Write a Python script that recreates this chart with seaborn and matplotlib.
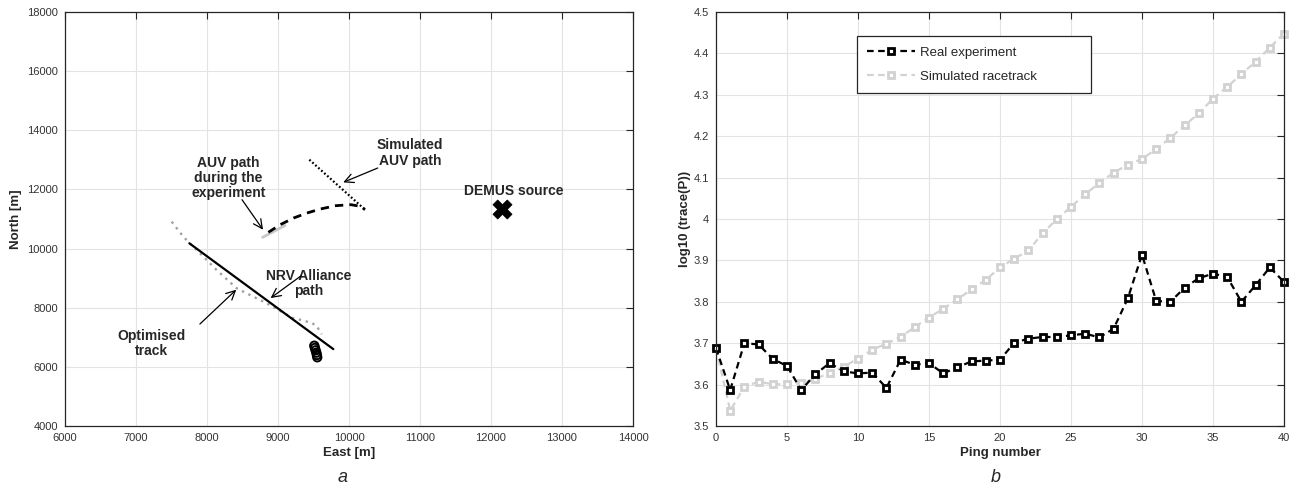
import numpy as np
import matplotlib
matplotlib.use("Agg")
import matplotlib.pyplot as plt
from matplotlib.ticker import FormatStrFormatter
import seaborn as sns

# ---- panel a: tracks (East / North in metres) ----
nrv_east = [7751, 9779]
nrv_north = [10179, 6600]

opt_east = [7503, 7666, 7901, 8136, 8418, 8606, 8841, 9216, 9272, 9465, 9549, 9577, 9615]
opt_north = [10909, 10402, 9841, 9275, 8656, 8430, 8149, 7642, 7618, 7493, 7382, 7246, 7100]

auv_east = [8864, 9031, 9219, 9408, 9596, 9812, 10027, 10162, 10226]
auv_north = [10550, 10807, 11033, 11202, 11337, 11450, 11484, 11428, 11315]

auv_start_east = [8783, 9099]
auv_start_north = [10380, 10780]

sim_auv_east = [9441, 10226]
sim_auv_north = [13006, 11315]

ship_east = [9511, 9520, 9530, 9540, 9548, 9553]
ship_north = [6716, 6640, 6560, 6480, 6400, 6323]

demus_east = [12161]
demus_north = [11337]

# ---- panel b: log10(trace(P)) per ping ----
ping = list(range(41))
real_exp = [3.688, 3.587, 3.700, 3.697, 3.662, 3.645, 3.587, 3.625, 3.652, 3.632,
            3.627, 3.629, 3.592, 3.660, 3.648, 3.652, 3.627, 3.642, 3.656, 3.658,
            3.660, 3.701, 3.711, 3.715, 3.715, 3.719, 3.723, 3.714, 3.735, 3.808,
            3.914, 3.802, 3.800, 3.834, 3.857, 3.868, 3.860, 3.800, 3.840, 3.883,
            3.848]
sim_race = [3.688, 3.537, 3.595, 3.607, 3.601, 3.601, 3.604, 3.614, 3.628, 3.643,
            3.663, 3.684, 3.699, 3.715, 3.739, 3.762, 3.783, 3.806, 3.830, 3.853,
            3.883, 3.904, 3.924, 3.965, 4.000, 4.029, 4.060, 4.087, 4.112, 4.131,
            4.145, 4.169, 4.196, 4.226, 4.255, 4.291, 4.319, 4.350, 4.380, 4.414,
            4.448]

sns.set_style("whitegrid")
plt.rcParams['font.family'] = ['Liberation Sans', 'DejaVu Sans']

AX_COL = '#262626'
GRID_COL = '#e3e3e3'

fig = plt.figure(figsize=(12.98, 4.86), dpi=100)
ax1 = fig.add_axes([65 / 1298, 1 - 426 / 486, 568 / 1298, 414 / 486])
ax2 = fig.add_axes([716 / 1298, 1 - 426 / 486, 568 / 1298, 414 / 486])


def style_axes(ax):
    ax.grid(True, color=GRID_COL, linewidth=0.8)
    ax.set_axisbelow(True)
    for sp in ax.spines.values():
        sp.set_visible(True)
        sp.set_color(AX_COL)
        sp.set_linewidth(0.9)
    ax.tick_params(direction='in', top=True, right=True, length=5, width=0.8,
                   color=AX_COL, labelcolor='#333333', labelsize=8, pad=5)


# panel a
sns.lineplot(x=opt_east, y=opt_north, sort=False, estimator=None, ax=ax1,
             color='#a0a0a0', linewidth=1.7, linestyle=(0, (1, 2)))
sns.lineplot(x=nrv_east, y=nrv_north, sort=False, estimator=None, ax=ax1,
             color='black', linewidth=1.6)
sns.lineplot(x=auv_start_east, y=auv_start_north, sort=False, estimator=None, ax=ax1,
             color='#c8c8c8', linewidth=2.0)
sns.lineplot(x=auv_east, y=auv_north, sort=False, estimator=None, ax=ax1,
             color='black', linewidth=2.0, linestyle=(0, (3, 2.2)))
sns.lineplot(x=sim_auv_east, y=sim_auv_north, sort=False, estimator=None, ax=ax1,
             color='black', linewidth=1.6, linestyle=(0, (0.8, 1)))
sns.scatterplot(x=ship_east, y=ship_north, ax=ax1, marker='o', s=36,
                facecolor='none', edgecolor='black', linewidth=1.4)
sns.scatterplot(x=demus_east, y=demus_north, ax=ax1, marker='X', s=190,
                color='black', edgecolor='black', linewidth=0.5)

ax1.set_xlim(6000, 14000)
ax1.set_ylim(4000, 18000)
ax1.set_xticks(np.arange(6000, 14001, 1000))
ax1.set_yticks(np.arange(4000, 18001, 2000))
style_axes(ax1)
ax1.set_xlabel('East [m]', fontsize=9.5, fontweight='bold', color=AX_COL, labelpad=3)
ax1.set_ylabel('North [m]', fontsize=9.5, fontweight='bold', color=AX_COL, labelpad=4)

txt = dict(fontsize=10, fontweight='bold', ha='center', va='center', linespacing=1.1)
arrow = dict(arrowstyle='->', color='black', lw=0.9, mutation_scale=16,
             shrinkA=0, shrinkB=0)

ax1.text(10861, 13231, 'Simulated\nAUV path', **txt)
ax1.annotate('', xy=(9919, 12239), xytext=(10404, 12724), arrowprops=arrow)
ax1.text(8304, 12386, 'AUV path\nduring the\nexperiment', **txt)
ax1.annotate('', xy=(8789, 10638), xytext=(8493, 11653), arrowprops=arrow)
ax1.text(9435, 8834, 'NRV Alliance\npath', **txt)
ax1.annotate('', xy=(8896, 8327), xytext=(9327, 9082), arrowprops=arrow)
ax1.text(7217, 6805, 'Optimised\ntrack', **txt)
ax1.annotate('', xy=(8412, 8609), xytext=(7900, 7448), arrowprops=arrow)
ax1.text(12326, 11957, 'DEMUS source', **txt)

# panel b
mk = dict(marker='s', markersize=5, markerfacecolor='white', markeredgewidth=2.0,
          linewidth=1.6, linestyle=(0, (3, 2)), sort=False, estimator=None,
          clip_on=False, ax=ax2)
sns.lineplot(x=ping, y=sim_race, color='#d2d2d2', markeredgecolor='#d2d2d2',
             label='Simulated racetrack', **mk)
sns.lineplot(x=ping, y=real_exp, color='black', markeredgecolor='black',
             label='Real experiment', **mk)

ax2.set_xlim(0, 40)
ax2.set_ylim(3.5, 4.5)
ax2.set_xticks(np.arange(0, 41, 5))
ax2.set_yticks(np.arange(3.5, 4.51, 0.1))
ax2.yaxis.set_major_formatter(FormatStrFormatter('%g'))
style_axes(ax2)
ax2.set_xlabel('Ping number', fontsize=9.5, fontweight='bold', color=AX_COL, labelpad=3)
ax2.set_ylabel('log10 (trace(P))', fontsize=9.5, fontweight='bold', color=AX_COL, labelpad=2)

h, l = ax2.get_legend_handles_labels()
order = [l.index('Real experiment'), l.index('Simulated racetrack')]
leg = ax2.legend([h[i] for i in order], [l[i] for i in order], loc='upper left',
                 bbox_to_anchor=(0.248, 0.942, 0.412, 0), mode='expand',
                 borderaxespad=0, fontsize=9.5, frameon=True, fancybox=False,
                 handlelength=3.6, handletextpad=0.4, labelspacing=0.9,
                 borderpad=0.8)
leg.get_frame().set_edgecolor(AX_COL)
leg.get_frame().set_linewidth(0.9)
leg.get_frame().set_alpha(1)
for t in leg.get_texts():
    t.set_color(AX_COL)

fig.text(343 / 1298, 1 - 477 / 486, 'a', fontsize=13, style='italic', ha='center', va='center')
fig.text(996 / 1298, 1 - 477 / 486, 'b', fontsize=13, style='italic', ha='center', va='center')

fig.savefig('out.png', dpi=100)
